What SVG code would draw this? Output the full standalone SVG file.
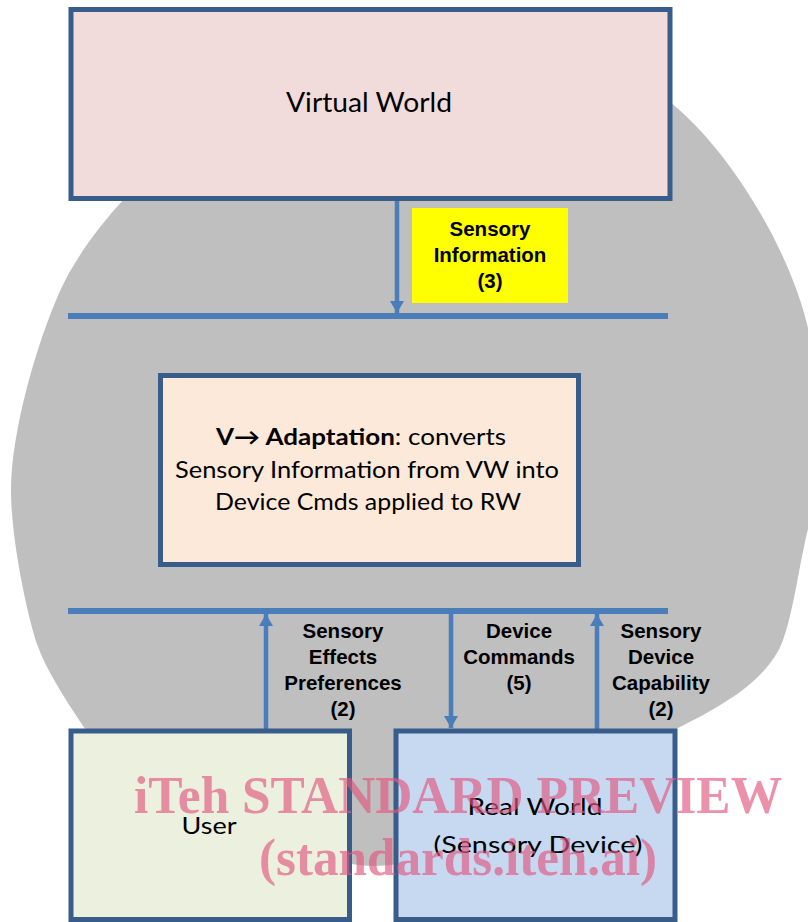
<svg xmlns="http://www.w3.org/2000/svg" width="808" height="922" viewBox="0 0 808 922">
<style>
.box{stroke:#385D8A;stroke-width:5}
.conn{stroke:#4A7EBB;stroke-width:4.5;fill:none}
.bus{stroke:#4A7EBB;stroke-width:6;fill:none}
.cal{font-family:Lato,"Open Sans",sans-serif;fill:#000;text-anchor:middle}
.lbl{font-family:"Liberation Sans",Arial,sans-serif;font-weight:bold;font-size:20.5px;fill:#000;text-anchor:middle}
.wm{font-family:"Liberation Serif","Times New Roman",serif;font-weight:bold;fill:#E2577F;opacity:0.65;text-anchor:start}
</style>
<defs>
<marker id="ah" viewBox="0 0 12 14" refX="12" refY="7" markerWidth="12" markerHeight="14" markerUnits="userSpaceOnUse" orient="auto">
<path d="M0,0 L12,7 L0,14 z" fill="#4A7EBB"/>
</marker>
</defs>
<rect width="808" height="922" fill="#FFFFFF"/>
<path id="backdrop" fill="#BFBFBF" d="M400,40 C520,38 620,62 670,102 C730,150 790,250 808,328 C820,365 832,395 832,430 C832,470 818,500 808,529 C800,560 794,610 783,640 C768,681 720,707 680,727 C600,767 470,866 372,866 C300,866 103,756 83,726 C66,700 46,670 37,644 C28,618 11,540 11,491 C11,430 38,340 60,291 C75,258 100,225 124,199 C170,150 280,45 400,40 Z"/>
<g id="connectors">
<line class="bus" x1="68" y1="316" x2="668" y2="316"/>
<line class="bus" x1="68" y1="611" x2="668" y2="611"/>
<line class="conn" x1="397" y1="201" x2="397" y2="313" marker-end="url(#ah)"/>
<line class="conn" x1="266" y1="731" x2="266" y2="614" marker-end="url(#ah)"/>
<line class="conn" x1="451" y1="614" x2="451" y2="728" marker-end="url(#ah)"/>
<line class="conn" x1="597" y1="731" x2="597" y2="614" marker-end="url(#ah)"/>
<g id="label-sensory-info">
<rect x="412" y="208" width="156" height="95" fill="#FFFF00"/>
<text class="lbl" x="490" y="236">Sensory</text>
<text class="lbl" x="490" y="262">Information</text>
<text class="lbl" x="490" y="288">(3)</text>
</g>
<g id="label-prefs">
<text class="lbl" x="343" y="638">Sensory</text>
<text class="lbl" x="343" y="664">Effects</text>
<text class="lbl" x="343" y="690">Preferences</text>
<text class="lbl" x="343" y="716">(2)</text>
</g>
<g id="label-cmds">
<text class="lbl" x="519" y="638">Device</text>
<text class="lbl" x="519" y="664">Commands</text>
<text class="lbl" x="519" y="690">(5)</text>
</g>
<g id="label-cap">
<text class="lbl" x="661" y="638">Sensory</text>
<text class="lbl" x="661" y="664">Device</text>
<text class="lbl" x="661" y="690">Capability</text>
<text class="lbl" x="661" y="716">(2)</text>
</g>
</g>
<g id="virtual-world">
<rect class="box" x="71" y="9.5" width="599" height="189" fill="#F2DCDB"/>
<text class="cal" x="369" y="112" font-size="26" textLength="166" lengthAdjust="spacingAndGlyphs">Virtual World</text>
</g>
<g id="adaptation">
<rect class="box" x="160.5" y="375.5" width="418" height="189" fill="#FDE9D9"/>
<text class="cal" x="361" y="445" font-size="23" textLength="290" lengthAdjust="spacingAndGlyphs"><tspan font-weight="bold">V→ Adaptation</tspan>: converts</text>
<text class="cal" x="367" y="478" font-size="23" textLength="384" lengthAdjust="spacingAndGlyphs">Sensory Information from VW into</text>
<text class="cal" x="368" y="510" font-size="23" textLength="306" lengthAdjust="spacingAndGlyphs">Device Cmds applied to RW</text>
</g>
<g id="user">
<rect class="box" x="71" y="731" width="278.5" height="188.5" fill="#EBF1DE"/>
<text class="cal" x="209" y="834" font-size="24" textLength="55" lengthAdjust="spacingAndGlyphs">User</text>
</g>
<g id="real-world">
<rect class="box" x="396" y="731" width="279" height="188.5" fill="#C6D9F1"/>
<text class="cal" x="535" y="815" font-size="24" textLength="135" lengthAdjust="spacingAndGlyphs">Real World</text>
<text class="cal" x="538" y="853" font-size="24" textLength="209" lengthAdjust="spacingAndGlyphs">(Sensory Device)</text>
</g>
<g id="watermark">
<text class="wm" x="134" y="813" font-size="52" textLength="648" lengthAdjust="spacingAndGlyphs">iTeh STANDARD PREVIEW</text>
<text class="wm" x="259" y="875" font-size="52" textLength="398" lengthAdjust="spacingAndGlyphs">(standards.iteh.ai)</text>
</g>
</svg>
